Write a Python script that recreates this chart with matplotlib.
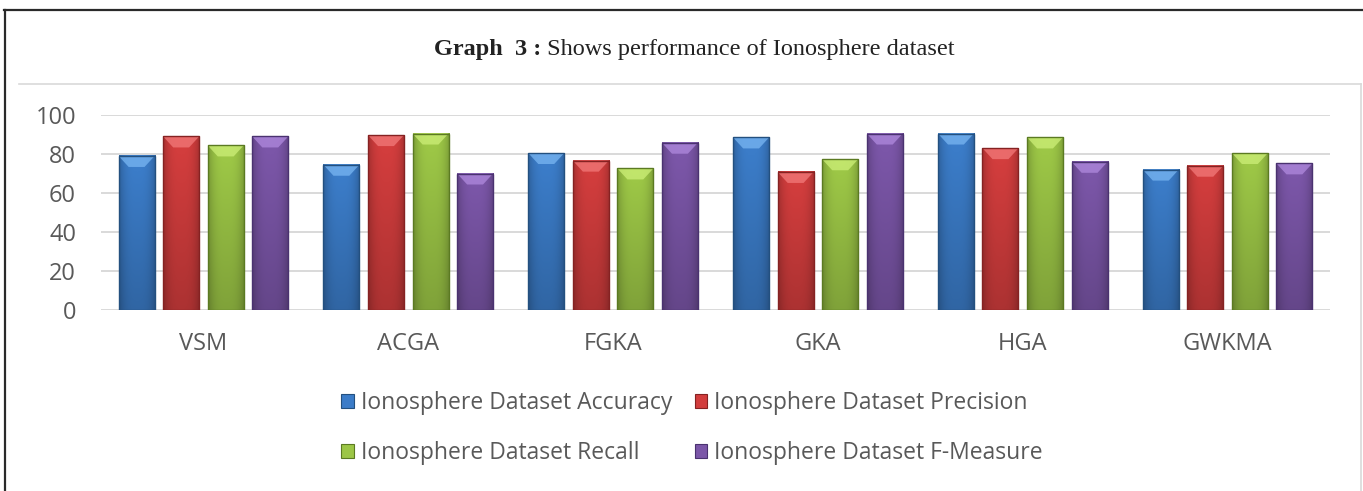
import numpy as np
import matplotlib
matplotlib.use("Agg")
import matplotlib.pyplot as plt
from matplotlib.patches import Polygon, Patch, Rectangle
from matplotlib.lines import Line2D
from matplotlib.colors import to_rgb

categories = ["VSM", "ACGA", "FGKA", "GKA", "HGA", "GWKMA"]
series_names = ["Ionosphere Dataset Accuracy", "Ionosphere Dataset Precision",
                "Ionosphere Dataset Recall", "Ionosphere Dataset F-Measure"]
accuracy = [79, 74.5, 80.5, 88.5, 90.5, 72]
precision = [89, 89.7, 76.6, 70.8, 83, 74]
recall = [84.4, 90.5, 72.6, 77.3, 88.5, 80.5]
fmeasure = [89, 70, 85.8, 90.5, 76, 75.2]
yticks = [0, 20, 40, 60, 80, 100]

values = [accuracy, precision, recall, fmeasure]
base_colors = ["#3b7cc8", "#d23d3d", "#9cc646", "#7b56a8"]
top_colors = ["#79b6f2", "#f27a7a", "#cdef78", "#b08ade"]
edge_colors = ["#23507f", "#852222", "#5b7a22", "#4a3270"]

W, H = 1363, 491
fig = plt.figure(figsize=(W / 100, H / 100), dpi=100)
fig.patch.set_facecolor("white")

ax = fig.add_axes([101 / W, (H - 310) / H, (1330 - 101) / W, 195 / H])
x = np.arange(len(categories))
step = 0.2175
width = 0.176
offsets = (np.arange(4) - 1.5) * step

ax.set_xlim(-0.5, len(categories) - 0.5)
ax.set_ylim(0, 100)

px_per_y = 195 / 100.0
bevel_d = 11 / px_per_y

for i, vals in enumerate(values):
    base = np.array(to_rgb(base_colors[i]))
    for j, v in enumerate(vals):
        x0 = x[j] + offsets[i] - width / 2
        x1 = x0 + width
        nx, ny = 40, 60
        u = np.linspace(0, 1, nx)
        t = np.linspace(1, 0, ny)[:, None]
        hf = 1 - 0.22 * np.abs(2 * u - 1) ** 3
        vf = 0.82 + 0.2 * t
        img = np.clip(base[None, None, :] * (hf[None, :, None] * vf[:, :, None]), 0, 1)
        ax.imshow(img, extent=(x0, x1, 0, v), aspect="auto", zorder=2, interpolation="bilinear")
        ax.add_patch(Rectangle((x0, 0), width, v, fill=False, edgecolor=edge_colors[i], lw=1.0, zorder=4))
        inset = width * 0.28
        bev = Polygon([(x0, v), (x1, v), (x1 - inset, v - bevel_d), (x0 + inset, v - bevel_d)],
                      closed=True, facecolor=top_colors[i], edgecolor="none", alpha=0.75, zorder=3)
        ax.add_patch(bev)

ax.set_xlim(-0.5, len(categories) - 0.5)
ax.set_ylim(0, 100)
ax.set_yticks(yticks)
ax.set_xticks(x)
ax.set_xticklabels(categories)
ax.yaxis.grid(True, color="#d9d9d9", lw=1.4, zorder=0)
ax.set_axisbelow(True)
for s in ax.spines.values():
    s.set_visible(False)
ax.tick_params(axis="both", length=0, labelsize=17, labelcolor="#595959")
ax.tick_params(axis="x", pad=16)
ax.tick_params(axis="y", pad=18)
for lab in ax.get_xticklabels() + ax.get_yticklabels():
    lab.set_fontfamily("Open Sans")

# column-major filling -> reorder so rows read Accuracy, Precision / Recall, F-Measure
order = [0, 2, 1, 3]
handles = [Patch(facecolor=base_colors[i], edgecolor=edge_colors[i], lw=0.8) for i in order]
labels = [series_names[i] for i in order]
leg = fig.legend(handles, labels, loc="center", bbox_to_anchor=(692 / W, 63 / H), ncol=2,
                 frameon=False, prop={"family": "Open Sans", "size": 16.5}, labelcolor="#595959",
                 handlelength=0.55, handleheight=0.55, handletextpad=0.3, columnspacing=1.0,
                 labelspacing=1.15)

fig.add_artist(Line2D([4 / W, 1], [(H - 10) / H] * 2, color="#2a2a2a", lw=1.6))
fig.add_artist(Line2D([5 / W] * 2, [0, (H - 10) / H], color="#2a2a2a", lw=1.6))
fig.add_artist(Line2D([19 / W, 1361 / W], [(H - 84) / H] * 2, color="#d9d9d9", lw=1.2))
fig.add_artist(Line2D([1361 / W] * 2, [0, (H - 84) / H], color="#d9d9d9", lw=1.2))

ty = (H - 50) / H
t1 = fig.text(0, ty, "Graph  3 :", fontfamily="Liberation Serif", fontweight="bold", fontsize=17.5,
              color="#222222", va="center", ha="left")
t2 = fig.text(0, ty, " Shows performance of Ionosphere dataset", fontfamily="Liberation Serif",
              fontsize=17.5, color="#222222", va="center", ha="left")
fig.canvas.draw()
r = fig.canvas.get_renderer()
w1 = t1.get_window_extent(r).width
w2 = t2.get_window_extent(r).width
start = 694 - (w1 + w2) / 2
t1.set_x(start / W)
t2.set_x((start + w1) / W)

fig.savefig("out.png", dpi=100)
